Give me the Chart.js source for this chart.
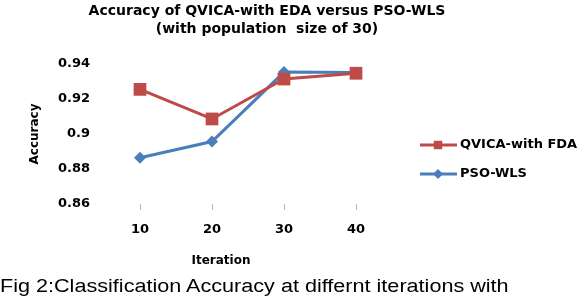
<!DOCTYPE html>
<html>
<head>
<meta charset="utf-8">
<script src="https://cdn.jsdelivr.net/npm/chart.js@4/dist/chart.umd.min.js"></script>
<style>
  body { margin: 0; background: #fff; }
  #wrap { position: relative; width: 582px; height: 296px; overflow: hidden; }
  #caption {
    position: absolute; left: 0; top: 276px; white-space: nowrap;
    font: 18px "Liberation Sans", Arial, sans-serif; color: #000;
    transform: scaleX(1.2); transform-origin: left top;
  }
</style>
</head>
<body>
<div id="wrap">
  <canvas id="chart" width="582" height="296"></canvas>
  <div id="caption">Fig 2:Classification Accuracy at differnt iterations with</div>
</div>
<script>
// Chart data
const iterations = ['10', '20', '30', '40'];
const qvicaValues = [0.9255, 0.9086, 0.9314, 0.9347];
const psoValues = [0.8864, 0.8957, 0.9354, 0.9352];
const yTickLabels = ['0.86', '0.88', '0.9', '0.92', '0.94'];
const titleLines = ['Accuracy of QVICA-with EDA versus PSO-WLS', '(with population  size of 30)'];

const tickFont = { family: 'DejaVu Sans', size: 13, weight: 'bold' };

// Draws the title, x axis title and legend by hand
const decorations = {
    id: 'decorations',
    afterDraw(chart) {
        const ctx = chart.ctx;
        ctx.save();
        ctx.fillStyle = '#000';
        ctx.textAlign = 'center';
        ctx.textBaseline = 'middle';
        ctx.font = 'bold 14px "DejaVu Sans", sans-serif';
        ctx.fillText(titleLines[0], 267, 11);
        ctx.fillText(titleLines[1], 267, 29);

        ctx.font = 'bold 12px "DejaVu Sans", sans-serif';
        ctx.fillText('Iteration', 221, 261);

        // legend
        ctx.font = 'bold 13px "DejaVu Sans", sans-serif';
        const rows = [145, 174];
        chart.data.datasets.forEach((ds, i) => {
            const y = rows[i];
            ctx.strokeStyle = ds.borderColor;
            ctx.lineWidth = 3;
            ctx.beginPath();
            ctx.moveTo(420, y);
            ctx.lineTo(457, y);
            ctx.stroke();
            ctx.fillStyle = ds.backgroundColor;
            Chart.helpers.drawPoint(ctx, {
                pointStyle: ds.pointStyle,
                radius: ds.pointStyle === 'rect' ? 6 : 5,
                borderWidth: 0
            }, 438, y);
            ctx.fillStyle = '#000';
            ctx.textAlign = 'left';
            ctx.fillText(ds.label, 460, y);
        });
        ctx.restore();
    }
};

new Chart(document.getElementById('chart'), {
    type: 'line',
    data: {
        labels: iterations,
        datasets: [{
            label: 'QVICA-with FDA',
            data: qvicaValues,
            borderColor: '#BE4B48',
            backgroundColor: '#BE4B48',
            borderWidth: 3,
            pointStyle: 'rect',
            pointRadius: 9,
            pointBorderWidth: 0
        }, {
            label: 'PSO-WLS',
            data: psoValues,
            borderColor: '#4A7EBB',
            backgroundColor: '#4A7EBB',
            borderWidth: 3,
            pointStyle: 'rectRot',
            pointRadius: 6,
            pointBorderWidth: 0
        }]
    },
    options: {
        responsive: false,
        animation: false,
        layout: { padding: { top: 64, right: 190, bottom: 26, left: 0 } },
        plugins: {
            legend: { display: false },
            title: { display: false },
            tooltip: { enabled: false }
        },
        scales: {
            x: {
                offset: true,
                grid: { drawOnChartArea: false, drawTicks: true, tickLength: 6, color: '#b9b9b9' },
                border: { display: false },
                ticks: { padding: 12, color: '#000', font: tickFont },
                afterFit(scale) { scale.height = 66; }
            },
            y: {
                min: 0.86,
                max: 0.94,
                grid: { display: false, drawTicks: false },
                border: { display: false },
                ticks: {
                    stepSize: 0.02,
                    padding: 14,
                    color: '#000',
                    font: tickFont,
                    callback: (v, i) => yTickLabels[i]
                },
                title: {
                    display: true,
                    text: 'Accuracy',
                    color: '#000',
                    font: { family: 'DejaVu Sans', size: 12, weight: 'bold' },
                    padding: { top: 28, bottom: 0 }
                },
                afterFit(scale) { scale.width = 104; }
            }
        }
    },
    plugins: [decorations]
});
</script>
</body>
</html>
